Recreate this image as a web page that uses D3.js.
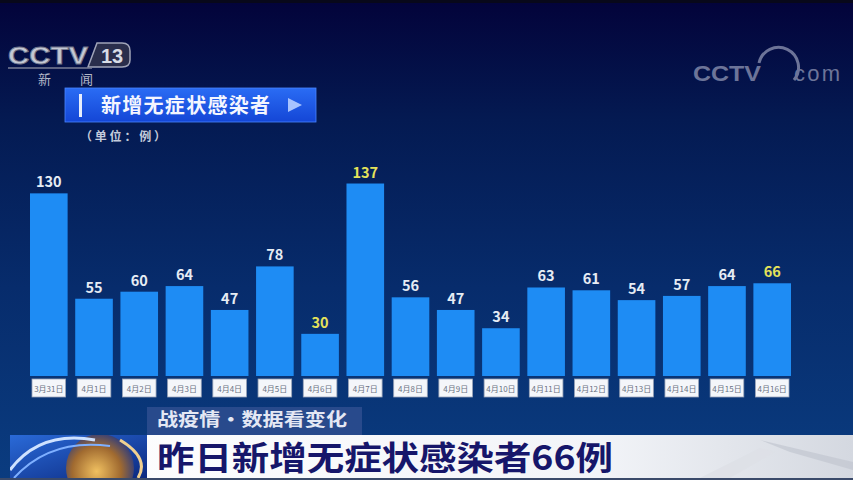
<!DOCTYPE html>
<html>
<head>
<meta charset="utf-8">
<script src="https://cdn.jsdelivr.net/npm/d3@7"></script>
<style>
  html, body { margin: 0; padding: 0; background: #03033a; }
  svg { display: block; }
</style>
</head>
<body>
<svg id="chart" width="853" height="480"></svg>
<script>
// Daily new asymptomatic infections (cases)
const categories = ["3月31日","4月1日","4月2日","4月3日","4月4日","4月5日","4月6日","4月7日","4月8日","4月9日","4月10日","4月11日","4月12日","4月13日","4月14日","4月15日","4月16日"];
const values = [130, 55, 60, 64, 47, 78, 30, 137, 56, 47, 34, 63, 61, 54, 57, 64, 66];
const highlighted = ["4月6日", "4月7日", "4月16日"];

const titleText = "新增无症状感染者";
const unitText = "（单位：例）";
const columnText = "战疫情·数据看变化";
const headlineText = "昨日新增无症状感染者66例";

const W = 853, H = 480;
const CJK = "'Noto Sans CJK SC', 'Noto Sans', sans-serif";
const svg = d3.select("#chart");
const defs = svg.append("defs");

// ---- background ----
const bg = defs.append("linearGradient").attr("id", "bg").attr("x1", 0).attr("y1", 0).attr("x2", 0).attr("y2", 1);
bg.append("stop").attr("offset", "0%").attr("stop-color", "#03033a");
bg.append("stop").attr("offset", "25%").attr("stop-color", "#041a52");
bg.append("stop").attr("offset", "60%").attr("stop-color", "#072c6c");
bg.append("stop").attr("offset", "100%").attr("stop-color", "#0a3c80");
svg.append("rect").attr("width", W).attr("height", H).attr("fill", "url(#bg)");
svg.append("rect").attr("width", W).attr("height", 3).attr("fill", "#08081a");

// ---- scales ----
const x = d3.scaleBand().domain(categories).range([30, 791]).paddingInner(0.168).paddingOuter(0);
const baseY = 376;
const y = d3.scaleLinear().domain([0, 140]).range([baseY, baseY - 140 * 1.405]);

const data = categories.map((c, i) => ({ c, v: values[i], hi: highlighted.includes(c) }));

// ---- bars ----
svg.append("g").selectAll("rect").data(data).join("rect")
  .attr("x", d => x(d.c))
  .attr("y", d => y(d.v))
  .attr("width", x.bandwidth())
  .attr("height", d => y(0) - y(d.v))
  .attr("fill", "#1e8cf4");

// ---- value labels ----
svg.append("g").selectAll("text").data(data).join("text")
  .attr("x", d => x(d.c) + x.bandwidth() / 2)
  .attr("y", d => y(d.v) - 6)
  .attr("text-anchor", "middle")
  .attr("font-family", CJK)
  .attr("font-weight", 700)
  .attr("font-size", 14.5)
  .attr("fill", d => d.hi ? "#e4e25a" : "#e6ecf4")
  .text(d => d.v);

// ---- category label boxes (x axis) ----
const xAxis = svg.append("g").attr("transform", `translate(0,${baseY})`)
  .call(d3.axisBottom(x).tickSize(0).tickPadding(0));
xAxis.select(".domain").remove();
xAxis.selectAll(".tick").each(function () {
  const g = d3.select(this);
  g.insert("rect", "text")
    .attr("x", -x.bandwidth() / 2 + 2)
    .attr("y", 3)
    .attr("width", x.bandwidth() - 4)
    .attr("height", 18)
    .attr("fill", "#f4f6fa")
    .attr("stroke", "#9aa4b8")
    .attr("stroke-width", 0.8);
  g.select("text")
    .attr("y", 15.5)
    .attr("dy", null)
    .attr("font-family", CJK)
    .attr("font-size", 8)
    .attr("fill", "#6a7282");
});

// ---- title bar ----
const tg = defs.append("linearGradient").attr("id", "tbar").attr("x1", 0).attr("y1", 0).attr("x2", 0).attr("y2", 1);
tg.append("stop").attr("offset", "0%").attr("stop-color", "#2a6cf4");
tg.append("stop").attr("offset", "100%").attr("stop-color", "#1446d6");
svg.append("rect").attr("x", 65).attr("y", 88).attr("width", 251).attr("height", 34)
  .attr("fill", "url(#tbar)").attr("stroke", "#4a86ff").attr("stroke-width", 0.8);
svg.append("rect").attr("x", 79).attr("y", 94).attr("width", 3).attr("height", 23).attr("fill", "#e8eefc");
svg.append("text").attr("x", 101).attr("y", 112.5)
  .attr("font-family", CJK).attr("font-weight", 700).attr("font-size", 20)
  .attr("fill", "#f4f6ff").attr("textLength", 169).text(titleText);
svg.append("path").attr("d", "M288,98 L302,105 L288,112 Z").attr("fill", "#a8c4ff");
svg.append("text").attr("x", 80).attr("y", 141)
  .attr("font-family", CJK).attr("font-weight", 700).attr("font-size", 12)
  .attr("fill", "#c4ccdc").attr("textLength", 86).text(unitText);

// ---- CCTV-13 channel logo ----
const logo = svg.append("g");
logo.append("text").attr("x", 8).attr("y", 64)
  .attr("font-family", "'Liberation Sans', Arial, sans-serif").attr("font-weight", 700)
  .attr("font-size", 24).attr("textLength", 80).attr("lengthAdjust", "spacingAndGlyphs")
  .attr("fill", "#c4c8d4").attr("stroke", "#70748a").attr("stroke-width", 0.8)
  .text("CCTV");
logo.append("path")
  .attr("d", "M97,43 L122,43 Q130,43 130,51 L130,60 Q130,67 122,67 L88,67 Z")
  .attr("fill", "#2a2e4c").attr("stroke", "#a0a4b8").attr("stroke-width", 1.5);
logo.append("text").attr("x", 112).attr("y", 63).attr("text-anchor", "middle")
  .attr("font-family", "'Liberation Sans', Arial, sans-serif").attr("font-weight", 700)
  .attr("font-size", 20).attr("fill", "#d8dce6").text("13");
logo.append("line").attr("x1", 8).attr("x2", 92).attr("y1", 68).attr("y2", 68)
  .attr("stroke", "#7a7e96").attr("stroke-width", 1.5);
logo.append("text").attr("x", 38).attr("y", 84).attr("font-family", CJK).attr("font-size", 13)
  .attr("fill", "#b4b8c8").text("新");
logo.append("text").attr("x", 80).attr("y", 84).attr("font-family", CJK).attr("font-size", 13)
  .attr("fill", "#b4b8c8").text("闻");

// ---- CCTV.com watermark ----
const wm = svg.append("g").attr("opacity", 0.75);
wm.append("text").attr("x", 693).attr("y", 81)
  .attr("font-family", "'Liberation Sans', Arial, sans-serif").attr("font-weight", 700)
  .attr("font-size", 22).attr("textLength", 68).attr("lengthAdjust", "spacingAndGlyphs")
  .attr("fill", "#9096b4").text("CCTV");
wm.append("path").attr("d", "M759,63 A20,20 0 1 1 794,80")
  .attr("fill", "none").attr("stroke", "#9096b4").attr("stroke-width", 3);
wm.append("text").attr("x", 794).attr("y", 81)
  .attr("font-family", "'Liberation Sans', Arial, sans-serif")
  .attr("font-size", 22).attr("textLength", 46).attr("fill", "#9096b4").text("com");

// ---- bottom caption ----
svg.append("rect").attr("x", 147).attr("y", 407).attr("width", 215).attr("height", 28)
  .attr("fill", "#2c4c8e").attr("opacity", 0.9);
svg.append("text").attr("x", 157).attr("y", 426)
  .attr("font-family", CJK).attr("font-weight", 700).attr("font-size", 18)
  .attr("fill", "#e4e8f4").attr("textLength", 190).attr("lengthAdjust", "spacingAndGlyphs").text(columnText);

const wb = defs.append("linearGradient").attr("id", "wb").attr("x1", 0).attr("y1", 0).attr("x2", 1).attr("y2", 0);
wb.append("stop").attr("offset", "0%").attr("stop-color", "#ffffff");
wb.append("stop").attr("offset", "70%").attr("stop-color", "#f2f4f8");
wb.append("stop").attr("offset", "100%").attr("stop-color", "#d4d8e0");
svg.append("rect").attr("x", 10).attr("y", 435).attr("width", 843).attr("height", 43).attr("fill", "url(#wb)");
svg.append("path").attr("d", "M760,440 L853,462 L853,470 L790,452 Z").attr("fill", "#c2c6d0").attr("opacity", 0.7);
svg.append("path").attr("d", "M700,478 L760,448 L775,452 L730,478 Z").attr("fill", "#dde0e6").attr("opacity", 0.8);
svg.append("rect").attr("x", 0).attr("y", 478).attr("width", W).attr("height", 2).attr("fill", "#3a4a6a");

// globe emblem at the left of the caption
const gg = defs.append("linearGradient").attr("id", "globeBg").attr("x1", 0).attr("y1", 0).attr("x2", 1).attr("y2", 1);
gg.append("stop").attr("offset", "0%").attr("stop-color", "#2a6ad8");
gg.append("stop").attr("offset", "100%").attr("stop-color", "#0c2a80");
const rg = defs.append("radialGradient").attr("id", "globe").attr("cx", 0.45).attr("cy", 0.55).attr("r", 0.6);
rg.append("stop").attr("offset", "0%").attr("stop-color", "#f0c060");
rg.append("stop").attr("offset", "60%").attr("stop-color", "#a06a30");
rg.append("stop").attr("offset", "100%").attr("stop-color", "#2a3a80");
const emb = svg.append("g");
emb.append("rect").attr("x", 10).attr("y", 435).attr("width", 137).attr("height", 43).attr("fill", "url(#globeBg)");
emb.append("clipPath").attr("id", "embClip").append("rect")
  .attr("x", 10).attr("y", 435).attr("width", 137).attr("height", 43);
const embInner = emb.append("g").attr("clip-path", "url(#embClip)");
embInner.append("circle").attr("cx", 100).attr("cy", 468).attr("r", 34).attr("fill", "url(#globe)");
embInner.append("path").attr("d", "M10,470 Q40,430 95,440").attr("fill", "none").attr("stroke", "#cfe2ff").attr("stroke-width", 3);
embInner.append("path").attr("d", "M14,478 Q50,438 110,446").attr("fill", "none").attr("stroke", "#7fb0ff").attr("stroke-width", 2);
embInner.append("path").attr("d", "M120,440 Q150,458 138,478").attr("fill", "none").attr("stroke", "#f0d090").attr("stroke-width", 3);

svg.append("text").attr("x", 157).attr("y", 470)
  .attr("font-family", CJK).attr("font-weight", 700).attr("font-size", 33)
  .attr("fill", "#16166a").attr("textLength", 456).attr("lengthAdjust", "spacingAndGlyphs")
  .text(headlineText);
</script>
</body>
</html>
